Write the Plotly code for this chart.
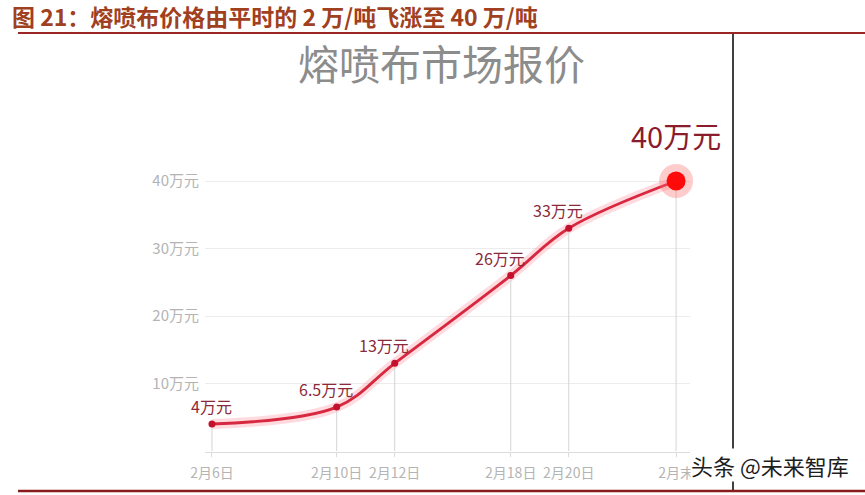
import plotly.graph_objects as go

# ---- data ----
dates = ["2月6日", "2月10日", "2月12日", "2月18日", "2月20日", "2月末"]
x_slots = [0, 2.15, 3.15, 5.15, 6.15, 8]      # uneven category spacing as drawn
prices = [4, 6.5, 13, 26, 33, 40]              # 万元
price_labels = ["4万元", "6.5万元", "13万元", "26万元", "33万元", "40万元"]
y_ticks = [10, 20, 30, 40]
y_ticklabels = ["10万元", "20万元", "30万元", "40万元"]

W, H = 865, 495
def px_x(p):
    return p / W
def px_y(p):
    return 1 - p / H

fig = go.Figure()

# glow under the line
fig.add_trace(go.Scatter(x=x_slots, y=prices, mode="lines",
                         line=dict(color="rgba(255,90,110,0.22)", width=10, shape="spline", smoothing=1.0),
                         hoverinfo="skip", showlegend=False, cliponaxis=False))
# drop lines to axis (error bars down to 0)
fig.add_trace(go.Scatter(x=x_slots, y=prices, mode="markers",
                         marker=dict(size=1, color="rgba(0,0,0,0)"),
                         error_y=dict(type="data", symmetric=False, array=[0]*len(prices),
                                      arrayminus=prices, color="#d4d4d4", thickness=1, width=0),
                         hoverinfo="skip", showlegend=False))
# main line
fig.add_trace(go.Scatter(x=x_slots, y=prices, mode="lines",
                         line=dict(color="#d8283f", width=2.8, shape="spline", smoothing=1.0),
                         showlegend=False, cliponaxis=False))
# small dots
fig.add_trace(go.Scatter(x=x_slots[:-1], y=prices[:-1], mode="markers",
                         marker=dict(size=7, color="#c4102c"),
                         showlegend=False, cliponaxis=False))
# big final dot with halo
fig.add_trace(go.Scatter(x=x_slots[-1:], y=prices[-1:], mode="markers",
                         marker=dict(size=34, color="rgba(255,110,110,0.35)"),
                         showlegend=False, cliponaxis=False))
fig.add_trace(go.Scatter(x=x_slots[-1:], y=prices[-1:], mode="markers",
                         marker=dict(size=19, color="#ff0a0a"),
                         showlegend=False, cliponaxis=False))

annotations = []
for i, (xv, yv, lab) in enumerate(zip(x_slots, prices, price_labels)):
    if i == len(prices) - 1:
        annotations.append(dict(x=xv, y=yv, xref="x", yref="y", text=lab, showarrow=False,
                                yshift=46, font=dict(size=29, color="#8b1c2c",
                                                     family="Noto Sans CJK SC")))
    else:
        annotations.append(dict(x=xv, y=yv, xref="x", yref="y", text=lab, showarrow=False,
                                yshift=18, xshift=(0 if i == 0 else -11),
                                font=dict(size=16, color="#8a2a3a", family="Noto Sans CJK SC")))

# header title
annotations.append(dict(x=px_x(10), y=px_y(16), xref="paper", yref="paper", xanchor="left",
                        yanchor="middle", showarrow=False,
                        text="<b>图 21：熔喷布价格由平时的 2 万/吨飞涨至 40 万/吨</b>",
                        font=dict(size=23, color="#a0401e", family="Noto Sans CJK SC")))
# inner chart title
annotations.append(dict(x=px_x(441), y=px_y(62), xref="paper", yref="paper", xanchor="center",
                        yanchor="middle", showarrow=False, text="熔喷布市场报价",
                        font=dict(size=41, color="#8c8c8c", family="Noto Sans CJK SC")))
# watermark (opaque background, covers the end of the last tick label as in the source)
annotations.append(dict(x=px_x(850), y=px_y(465), xref="paper", yref="paper", xanchor="right",
                        yanchor="middle", showarrow=False, text="头条 @未来智库", bgcolor="white",
                        borderpad=0,
                        font=dict(size=22, color="#1e1e1e", family="Noto Sans CJK SC")))

shapes = [
    dict(type="line", xref="paper", yref="paper", x0=px_x(18), x1=1, y0=px_y(33), y1=px_y(33),
         line=dict(color="#9c2626", width=2)),
    dict(type="line", xref="paper", yref="paper", x0=px_x(733), x1=px_x(733), y0=px_y(34), y1=px_y(490),
         line=dict(color="#111111", width=1.6)),
    dict(type="line", xref="paper", yref="paper", x0=px_x(18), x1=1, y0=px_y(491), y1=px_y(491),
         line=dict(color="#8b1a1a", width=2.5)),
]

fig.update_layout(
    width=W, height=H,
    margin=dict(l=0, r=0, t=0, b=0, autoexpand=False),
    paper_bgcolor="white", plot_bgcolor="white",
    annotations=annotations, shapes=shapes,
    font=dict(family="Noto Sans CJK SC"),
    xaxis=dict(domain=[px_x(205), px_x(690)], range=[-0.12, 8.24], automargin=False,
               tickvals=x_slots, ticktext=dates, showgrid=False, zeroline=False,
               showline=True, linecolor="#dcdcdc", linewidth=1,
               ticks="outside", ticklen=4, tickcolor="#dcdcdc", ticklabelstandoff=4,
               tickfont=dict(size=14, color="#b4b4b4")),
    yaxis=dict(domain=[px_y(452), px_y(150)], range=[-0.15, 44.6], automargin=False,
               tickvals=y_ticks, ticktext=y_ticklabels, showgrid=True, gridcolor="#ececec",
               zeroline=False, showline=False, ticks="", ticklabelstandoff=5,
               tickfont=dict(size=15, color="#b4b4b4")),
)

fig.write_html("out.html", config={"displayModeBar": False})

# remove default page margin so the figure sits at the window origin
with open("out.html", "r", encoding="utf-8") as f:
    html = f.read()
html = html.replace("<head>", "<head><style>html,body{margin:0;padding:0;overflow:hidden;}</style>", 1)
with open("out.html", "w", encoding="utf-8") as f:
    f.write(html)
